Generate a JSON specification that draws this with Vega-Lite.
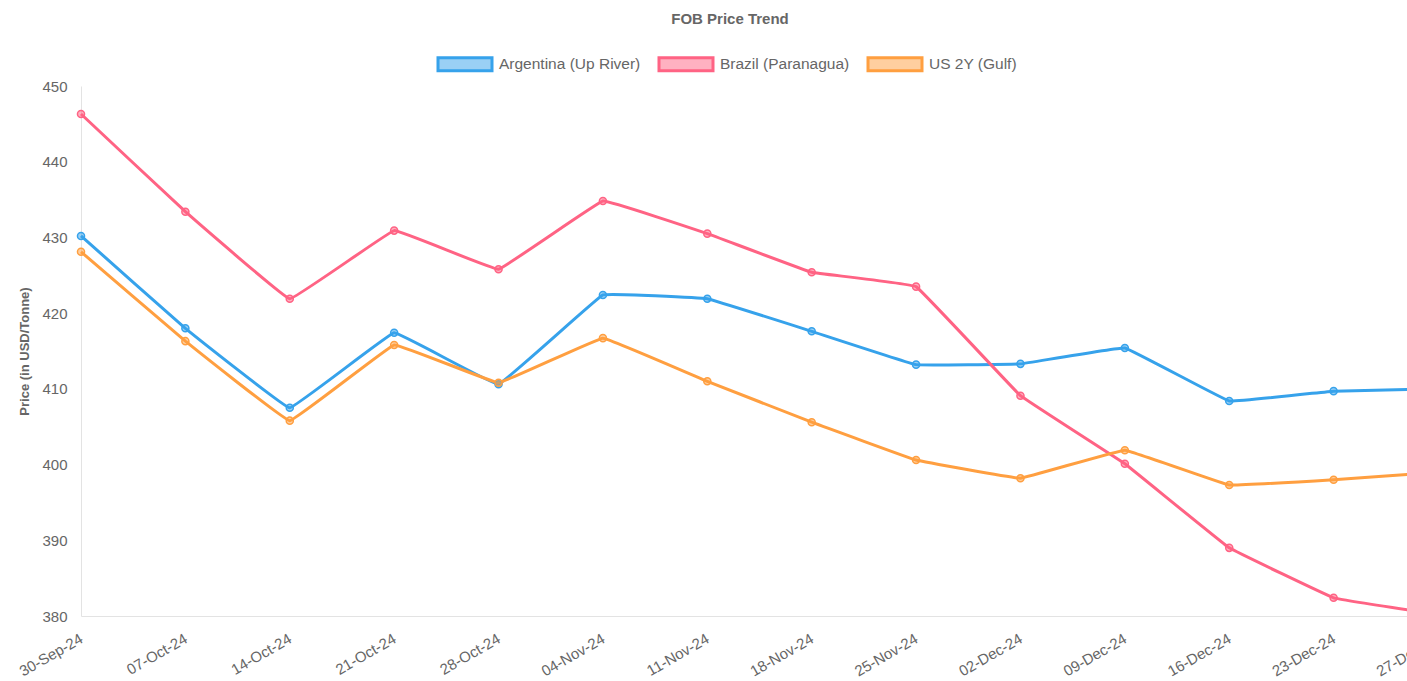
{
  "$schema": "https://vega.github.io/schema/vega-lite/v6.json",
  "width": 1326,
  "height": 530,
  "autosize": {"type": "none"},
  "padding": {"left": 81, "top": 86, "right": 0, "bottom": 65},
  "background": "white",
  "config": {
    "font": "Liberation Sans",
    "view": {"stroke": null},
    "axis": {"grid": false, "ticks": false, "domainColor": "#e3e3e3", "domainWidth": 1, "labelColor": "#666", "labelFont": "Liberation Sans", "labelFontSize": 15, "titleColor": "#666", "titleFont": "Liberation Sans"}
  },
  "title": {"text": "FOB Price Trend", "font": "Liberation Sans", "fontSize": 15, "fontWeight": "bold", "color": "#666", "anchor": "middle", "frame": "group", "dx": -14, "offset": 28},
  "data": {"values": [
    {"date": "30-Sep-24", "series": "Argentina (Up River)", "price": 430.2},
    {"date": "07-Oct-24", "series": "Argentina (Up River)", "price": 418.0},
    {"date": "14-Oct-24", "series": "Argentina (Up River)", "price": 407.5},
    {"date": "21-Oct-24", "series": "Argentina (Up River)", "price": 417.4},
    {"date": "28-Oct-24", "series": "Argentina (Up River)", "price": 410.6},
    {"date": "04-Nov-24", "series": "Argentina (Up River)", "price": 422.4},
    {"date": "11-Nov-24", "series": "Argentina (Up River)", "price": 421.9},
    {"date": "18-Nov-24", "series": "Argentina (Up River)", "price": 417.6},
    {"date": "25-Nov-24", "series": "Argentina (Up River)", "price": 413.2},
    {"date": "02-Dec-24", "series": "Argentina (Up River)", "price": 413.3},
    {"date": "09-Dec-24", "series": "Argentina (Up River)", "price": 415.4},
    {"date": "16-Dec-24", "series": "Argentina (Up River)", "price": 408.4},
    {"date": "23-Dec-24", "series": "Argentina (Up River)", "price": 409.7},
    {"date": "27-Dec-24", "series": "Argentina (Up River)", "price": 410.0},
    {"date": "30-Sep-24", "series": "Brazil (Paranagua)", "price": 446.3},
    {"date": "07-Oct-24", "series": "Brazil (Paranagua)", "price": 433.4},
    {"date": "14-Oct-24", "series": "Brazil (Paranagua)", "price": 421.9},
    {"date": "21-Oct-24", "series": "Brazil (Paranagua)", "price": 430.9},
    {"date": "28-Oct-24", "series": "Brazil (Paranagua)", "price": 425.8},
    {"date": "04-Nov-24", "series": "Brazil (Paranagua)", "price": 434.8},
    {"date": "11-Nov-24", "series": "Brazil (Paranagua)", "price": 430.5},
    {"date": "18-Nov-24", "series": "Brazil (Paranagua)", "price": 425.4},
    {"date": "25-Nov-24", "series": "Brazil (Paranagua)", "price": 423.5},
    {"date": "02-Dec-24", "series": "Brazil (Paranagua)", "price": 409.1},
    {"date": "09-Dec-24", "series": "Brazil (Paranagua)", "price": 400.1},
    {"date": "16-Dec-24", "series": "Brazil (Paranagua)", "price": 389.0},
    {"date": "23-Dec-24", "series": "Brazil (Paranagua)", "price": 382.4},
    {"date": "27-Dec-24", "series": "Brazil (Paranagua)", "price": 380.2},
    {"date": "30-Sep-24", "series": "US 2Y (Gulf)", "price": 428.1},
    {"date": "07-Oct-24", "series": "US 2Y (Gulf)", "price": 416.3},
    {"date": "14-Oct-24", "series": "US 2Y (Gulf)", "price": 405.8},
    {"date": "21-Oct-24", "series": "US 2Y (Gulf)", "price": 415.8},
    {"date": "28-Oct-24", "series": "US 2Y (Gulf)", "price": 410.8},
    {"date": "04-Nov-24", "series": "US 2Y (Gulf)", "price": 416.7},
    {"date": "11-Nov-24", "series": "US 2Y (Gulf)", "price": 411.0},
    {"date": "18-Nov-24", "series": "US 2Y (Gulf)", "price": 405.6},
    {"date": "25-Nov-24", "series": "US 2Y (Gulf)", "price": 400.6},
    {"date": "02-Dec-24", "series": "US 2Y (Gulf)", "price": 398.2},
    {"date": "09-Dec-24", "series": "US 2Y (Gulf)", "price": 401.9},
    {"date": "16-Dec-24", "series": "US 2Y (Gulf)", "price": 397.3},
    {"date": "23-Dec-24", "series": "US 2Y (Gulf)", "price": 398.0},
    {"date": "27-Dec-24", "series": "US 2Y (Gulf)", "price": 399.0}
  ]},
  "encoding": {
    "x": {"field": "date", "type": "ordinal", "sort": null, "scale": {"type": "point", "padding": 0, "range": [0, 1357]},
      "axis": {"title": null, "labelAngle": -30, "labelAlign": "right", "labelBaseline": "middle", "labelPadding": 21, "labelOverlap": false}},
    "y": {"field": "price", "type": "quantitative", "scale": {"domain": [380, 450], "nice": false, "zero": false},
      "axis": {"title": "Price (in USD/Tonne)", "titleFontSize": 13, "titleFontWeight": "bold", "titlePadding": 10, "values": [380, 390, 400, 410, 420, 430, 440, 450], "labelPadding": 14}},
    "color": {"field": "series", "type": "nominal",
      "scale": {"domain": ["Argentina (Up River)", "Brazil (Paranagua)", "US 2Y (Gulf)"], "range": ["#36a2eb", "#ff6384", "#ff9f40"]},
      "legend": {"title": null, "orient": "none", "legendX": 357, "legendY": -31, "direction": "horizontal", "columns": 3,
        "symbolType": "M-1.2,-0.87H6V0.87H-1.2Z", "symbolSize": 225, "symbolStrokeWidth": 3, "labelOffset": 43, "columnPadding": 12,
        "labelFontSize": 15.5, "labelColor": "#666", "labelFont": "Liberation Sans",
        "encode": {"symbols": {"update": {"fill": {"scale": "color", "field": "value"}, "fillOpacity": {"value": 0.5}, "stroke": {"scale": "color", "field": "value"}, "opacity": {"value": 1}}}}}
    }
  },
  "layer": [
    {"mark": {"type": "line", "strokeWidth": 3, "interpolate": "cardinal", "tension": 0.85}},
    {"mark": {"type": "point", "filled": false, "size": 50, "strokeWidth": 1.5, "opacity": 1, "fillOpacity": 0.5},
      "encoding": {"fill": {"field": "series", "type": "nominal", "scale": {"domain": ["Argentina (Up River)", "Brazil (Paranagua)", "US 2Y (Gulf)"], "range": ["#36a2eb", "#ff6384", "#ff9f40"]}, "legend": null}}}
  ]
}
